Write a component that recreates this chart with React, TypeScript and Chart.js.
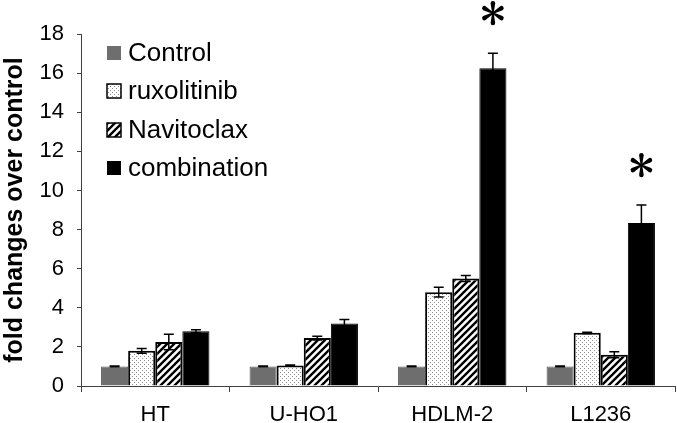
import React, { useEffect, useRef } from "react";
import { Chart, registerables } from "chart.js";

Chart.register(...registerables);

const categories = ["HT", "U-HO1", "HDLM-2", "L1236"];
const seriesNames = ["Control", "ruxolitinib", "Navitoclax", "combination"];
const controlValues = [1.0, 1.0, 1.0, 1.0];
const controlErrors = [0.02, 0.02, 0.02, 0.02];
const ruxValues = [1.8, 1.05, 4.8, 2.72];
const ruxErrors = [0.12, 0.02, 0.25, 0.03];
const naviValues = [2.25, 2.45, 5.5, 1.6];
const naviErrors = [0.4, 0.1, 0.15, 0.15];
const combValues = [2.8, 3.2, 16.25, 8.33];
const combErrors = [0.08, 0.2, 0.77, 0.92];
const significant = [false, false, true, true];
const yTicks = [0, 2, 4, 6, 8, 10, 12, 14, 16, 18];

const FONT = "'Liberation Sans', Arial, sans-serif";

function dotPattern(): CanvasPattern | string {
  const c = document.createElement("canvas");
  c.width = 4;
  c.height = 4;
  const g = c.getContext("2d");
  if (!g) return "#fff";
  g.fillStyle = "#ffffff";
  g.fillRect(0, 0, 4, 4);
  g.fillStyle = "#8a8a8a";
  g.fillRect(0, 0, 1, 1);
  g.fillRect(2, 2, 1, 1);
  return g.createPattern(c, "repeat") as CanvasPattern;
}

function hatchPattern(): CanvasPattern | string {
  const s = 7;
  const c = document.createElement("canvas");
  c.width = s;
  c.height = s;
  const g = c.getContext("2d");
  if (!g) return "#fff";
  g.fillStyle = "#ffffff";
  g.fillRect(0, 0, s, s);
  g.strokeStyle = "#000000";
  g.lineWidth = 2.4;
  g.beginPath();
  for (let k = -1; k <= 1; k++) {
    g.moveTo(k * s - 1, s + 1);
    g.lineTo(k * s + s + 1, -1);
  }
  g.stroke();
  return g.createPattern(c, "repeat") as CanvasPattern;
}

function drawAsterisk(ctx: CanvasRenderingContext2D, cx: number, cy: number, r: number) {
  for (let k = 0; k < 6; k++) {
    const a = -Math.PI / 2 + (k * Math.PI) / 3;
    const ca = Math.cos(a);
    const sa = Math.sin(a);
    const px = -sa;
    const py = ca;
    const ex = cx + ca * (r - 2.2);
    const ey = cy + sa * (r - 2.2);
    ctx.beginPath();
    ctx.moveTo(cx + px * 0.8, cy + py * 0.8);
    ctx.lineTo(ex + px * 2.3, ey + py * 2.3);
    ctx.arc(ex, ey, 2.3, a + Math.PI / 2, a - Math.PI / 2, true);
    ctx.lineTo(cx - px * 0.8, cy - py * 0.8);
    ctx.closePath();
    ctx.fill();
  }
}

export default function App() {
  const ref = useRef<HTMLCanvasElement | null>(null);

  useEffect(() => {
    document.body.style.margin = "0";
    const canvas = ref.current;
    if (!canvas) return;
    const dots = dotPattern();
    const hatch = hatchPattern();
    const errors = [controlErrors, ruxErrors, naviErrors, combErrors];

    const errorBars = {
      id: "errorBars",
      afterDatasetsDraw(chart: any) {
        const ctx = chart.ctx;
        const y = chart.scales.y;
        ctx.save();
        ctx.strokeStyle = "#000";
        ctx.lineWidth = 1.5;
        chart.data.datasets.forEach((ds: any, di: number) => {
          const meta = chart.getDatasetMeta(di);
          meta.data.forEach((el: any, i: number) => {
            const v = ds.data[i];
            const e = errors[di][i];
            const top = y.getPixelForValue(v + e);
            const bot = y.getPixelForValue(v - e);
            const x = el.x;
            ctx.beginPath();
            ctx.moveTo(x, top);
            ctx.lineTo(x, bot);
            ctx.moveTo(x - 5, top);
            ctx.lineTo(x + 5, top);
            ctx.moveTo(x - 5, bot);
            ctx.lineTo(x + 5, bot);
            ctx.stroke();
          });
        });
        const meta = chart.getDatasetMeta(3);
        ctx.fillStyle = "#000";
        meta.data.forEach((el: any, i: number) => {
          if (!significant[i]) return;
          const top = y.getPixelForValue(combValues[i] + combErrors[i]);
          drawAsterisk(ctx, el.x, top - 40, 12);
        });
        ctx.restore();
      },
    };

    const legendPlugin = {
      id: "customLegend",
      afterDraw(chart: any) {
        const ctx = chart.ctx;
        ctx.save();
        const rows = [53, 91, 130, 168];
        chart.data.datasets.forEach((ds: any, i: number) => {
          const yc = rows[i];
          ctx.fillStyle = ds.backgroundColor;
          ctx.fillRect(107, yc - 7, 14, 14);
          if (i === 1 || i === 2) {
            ctx.strokeStyle = "#000";
            ctx.lineWidth = 1.5;
            ctx.strokeRect(107, yc - 7, 14, 14);
          }
          ctx.fillStyle = "#000";
          ctx.font = "26px " + FONT;
          ctx.textBaseline = "middle";
          ctx.textAlign = "left";
          ctx.fillText(ds.label, 128, yc + 1);
        });
        ctx.restore();
      },
    };

    const chart = new Chart(canvas, {
      type: "bar",
      data: {
        labels: categories,
        datasets: [
          { label: seriesNames[0], data: controlValues, backgroundColor: "#6e6e6e", borderColor: "#5a5a5a", borderWidth: 1 },
          { label: seriesNames[1], data: ruxValues, backgroundColor: dots as any, borderColor: "#000", borderWidth: 2 },
          { label: seriesNames[2], data: naviValues, backgroundColor: hatch as any, borderColor: "#000", borderWidth: 2 },
          { label: seriesNames[3], data: combValues, backgroundColor: "#000000", borderColor: "#000", borderWidth: 1 },
        ],
      },
      options: {
        animation: false,
        responsive: false,
        layout: { padding: { top: 34, right: 2, left: 0, bottom: 0 } },
        datasets: { bar: { categoryPercentage: 0.73, barPercentage: 1.0 } },
        plugins: { legend: { display: false }, tooltip: { enabled: false } },
        scales: {
          x: {
            grid: { offset: true, drawOnChartArea: false, color: "#404040", tickLength: 6 },
            border: { color: "#404040", width: 1 },
            ticks: { color: "#000", font: { family: FONT, size: 22 }, padding: 10 },
            afterFit(s: any) { s.height = 37; },
          },
          y: {
            min: 0,
            max: 18,
            afterBuildTicks(s: any) { s.ticks = yTicks.map((v) => ({ value: v })); },
            grid: { drawOnChartArea: false, color: "#404040", tickLength: 4 },
            border: { color: "#404040", width: 1 },
            ticks: { color: "#000", font: { family: FONT, size: 22 }, padding: 13 },
            title: {
              display: true,
              text: "fold changes over control",
              color: "#000",
              font: { family: FONT, size: 25, weight: "bold" },
              padding: { top: 0, bottom: 0 },
            },
            afterFit(s: any) { s.width = 81; },
          },
        },
      },
      plugins: [errorBars, legendPlugin],
    });
    return () => chart.destroy();
  }, []);

  return (
    <div style={{ width: 677, height: 423 }}>
      <canvas ref={ref} width={677} height={423} style={{ display: "block" }} />
    </div>
  );
}
